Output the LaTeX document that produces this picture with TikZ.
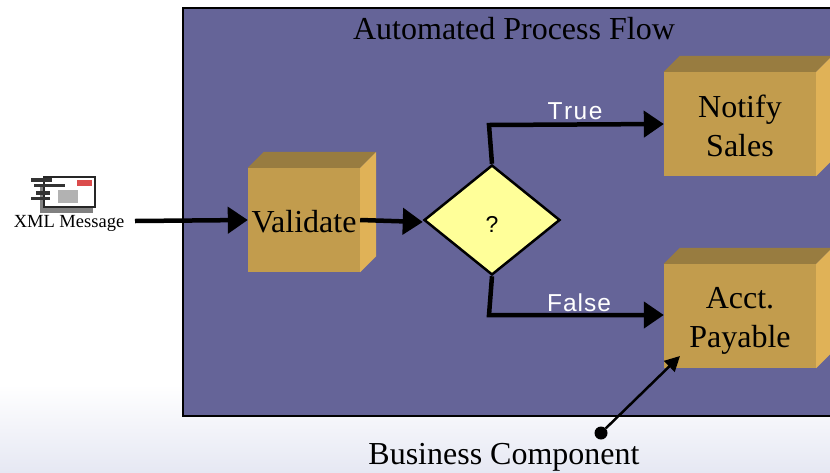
\documentclass[tikz,border=0pt]{standalone}
\usepackage{fontspec}
\setmainfont{Liberation Serif}
\newfontfamily\lblsans{Liberation Sans}
\usetikzlibrary{arrows.meta,shapes.geometric,calc}
\definecolor{panelblue}{HTML}{656498}
\definecolor{boxfront}{HTML}{C29C4D}
\definecolor{boxtop}{HTML}{987C40}
\definecolor{boxside}{HTML}{E0B257}
\definecolor{decision}{HTML}{FFFF99}
\definecolor{bottomtint}{HTML}{E6E8F3}
\tikzset{
  x=1pt,y=-1pt,
  frontbox/.style={rectangle,fill=boxfront,inner sep=0pt},
  boxtext/.style={inner sep=0pt,align=center,font=\fontsize{32}{39}\selectfont},
  flow/.style={line width=4.5pt,-{Triangle[length=20pt,width=26pt]}},
  flowlbl/.style={text=white,font=\lblsans\fontsize{24.5}{28}\selectfont,inner sep=0pt},
}
\newcommand{\solid}[1]{%
  \fill[boxtop] (#1.north west) -- ++(16,-16) -- ($(#1.north east)+(16,-16)$) -- (#1.north east) -- cycle;
  \fill[boxside] (#1.north east) -- ++(16,-16) -- ($(#1.south east)+(16,-16)$) -- (#1.south east) -- cycle;
}
\begin{document}
\begin{tikzpicture}
\clip (0,0) rectangle (830,472);
\fill[white] (0,0) rectangle (830,472);
\shade[top color=white,bottom color=bottomtint] (0,385) rectangle (830,472);
\fill[panelblue,draw=black,line width=2.5pt] (183,8) rectangle (860,416);
\node[inner sep=0pt,font=\fontsize{32}{38}\selectfont] (title) at (514,28.5) {Automated Process Flow};

\node[frontbox,minimum width=112pt,minimum height=104pt] (validate) at (304,220) {};
\node[frontbox,minimum width=152pt,minimum height=104pt] (notify) at (740,124) {};
\node[frontbox,minimum width=152pt,minimum height=104pt] (acct) at (740,316) {};
\solid{validate}
\solid{notify}
\solid{acct}

\node[diamond,aspect=1.24,fill=decision,draw=black,line width=2.5pt,inner sep=0pt,minimum width=136pt,minimum height=110pt] (dec) at (492,220) {};
\node[inner sep=0pt,font=\lblsans\fontsize{23}{28}\selectfont] (qmark) at (492,224) {?};

% mail icon
\fill[black!50] (40,184) rectangle (93,213);
\fill[white,draw=black!85,line width=2.5pt] (44,177) rectangle (95,207);
\fill[red!80!black,opacity=.7] (77,180) rectangle (92,186);
\fill[black!30] (58,190) rectangle (78,203);
\fill[black!80] (31,178) rectangle (52,182);
\fill[black!80] (34,184) rectangle (65,187);
\fill[black!80] (36,191) rectangle (50,195);
\fill[black!80] (31,197) rectangle (50,200);
\node[inner sep=0pt,font=\fontsize{18.5}{22}\selectfont] (xml) at (69,223) {XML Message};

\coordinate (xmlstart) at (135,221);
\coordinate (tbend) at (489,125);
\coordinate (fbend) at (489,315);
\coordinate (dot) at (601,433);
\draw[flow] (xmlstart) -- (validate.west);
\draw[flow] (validate.east) -- ($(dec.west)+(0,2)$);
\draw[flow,line join=miter] (dec.north) -- (tbend) -- (notify.west);
\draw[flow,line join=miter] (dec.south) -- (fbend) -- ($(acct.west)+(0,-1)$);
\node[flowlbl] (truelbl) at (575,111) {T\hspace{1.5pt}r\hspace{1.5pt}u\hspace{1.5pt}e};
\node[flowlbl] (falselbl) at (579,303) {F\hspace{1pt}a\hspace{1pt}l\hspace{1pt}s\hspace{1pt}e};

\node[boxtext] (validatetext) at (304,222) {Validate};
\node[boxtext] (notifytext) at (740,126) {Notify\\Sales};
\node[boxtext] (accttext) at (740,321) {Acct.\\Payable};

\node[circle,fill=black,inner sep=0pt,minimum size=13pt] (dotnode) at (dot) {};
\draw[line width=2.5pt,-{Triangle[length=15pt,width=15pt]}] (dotnode) -- (680,356);
\node[inner sep=0pt,font=\fontsize{32}{38}\selectfont] (bc) at (504,457) {Business Component};
\end{tikzpicture}
\end{document}
